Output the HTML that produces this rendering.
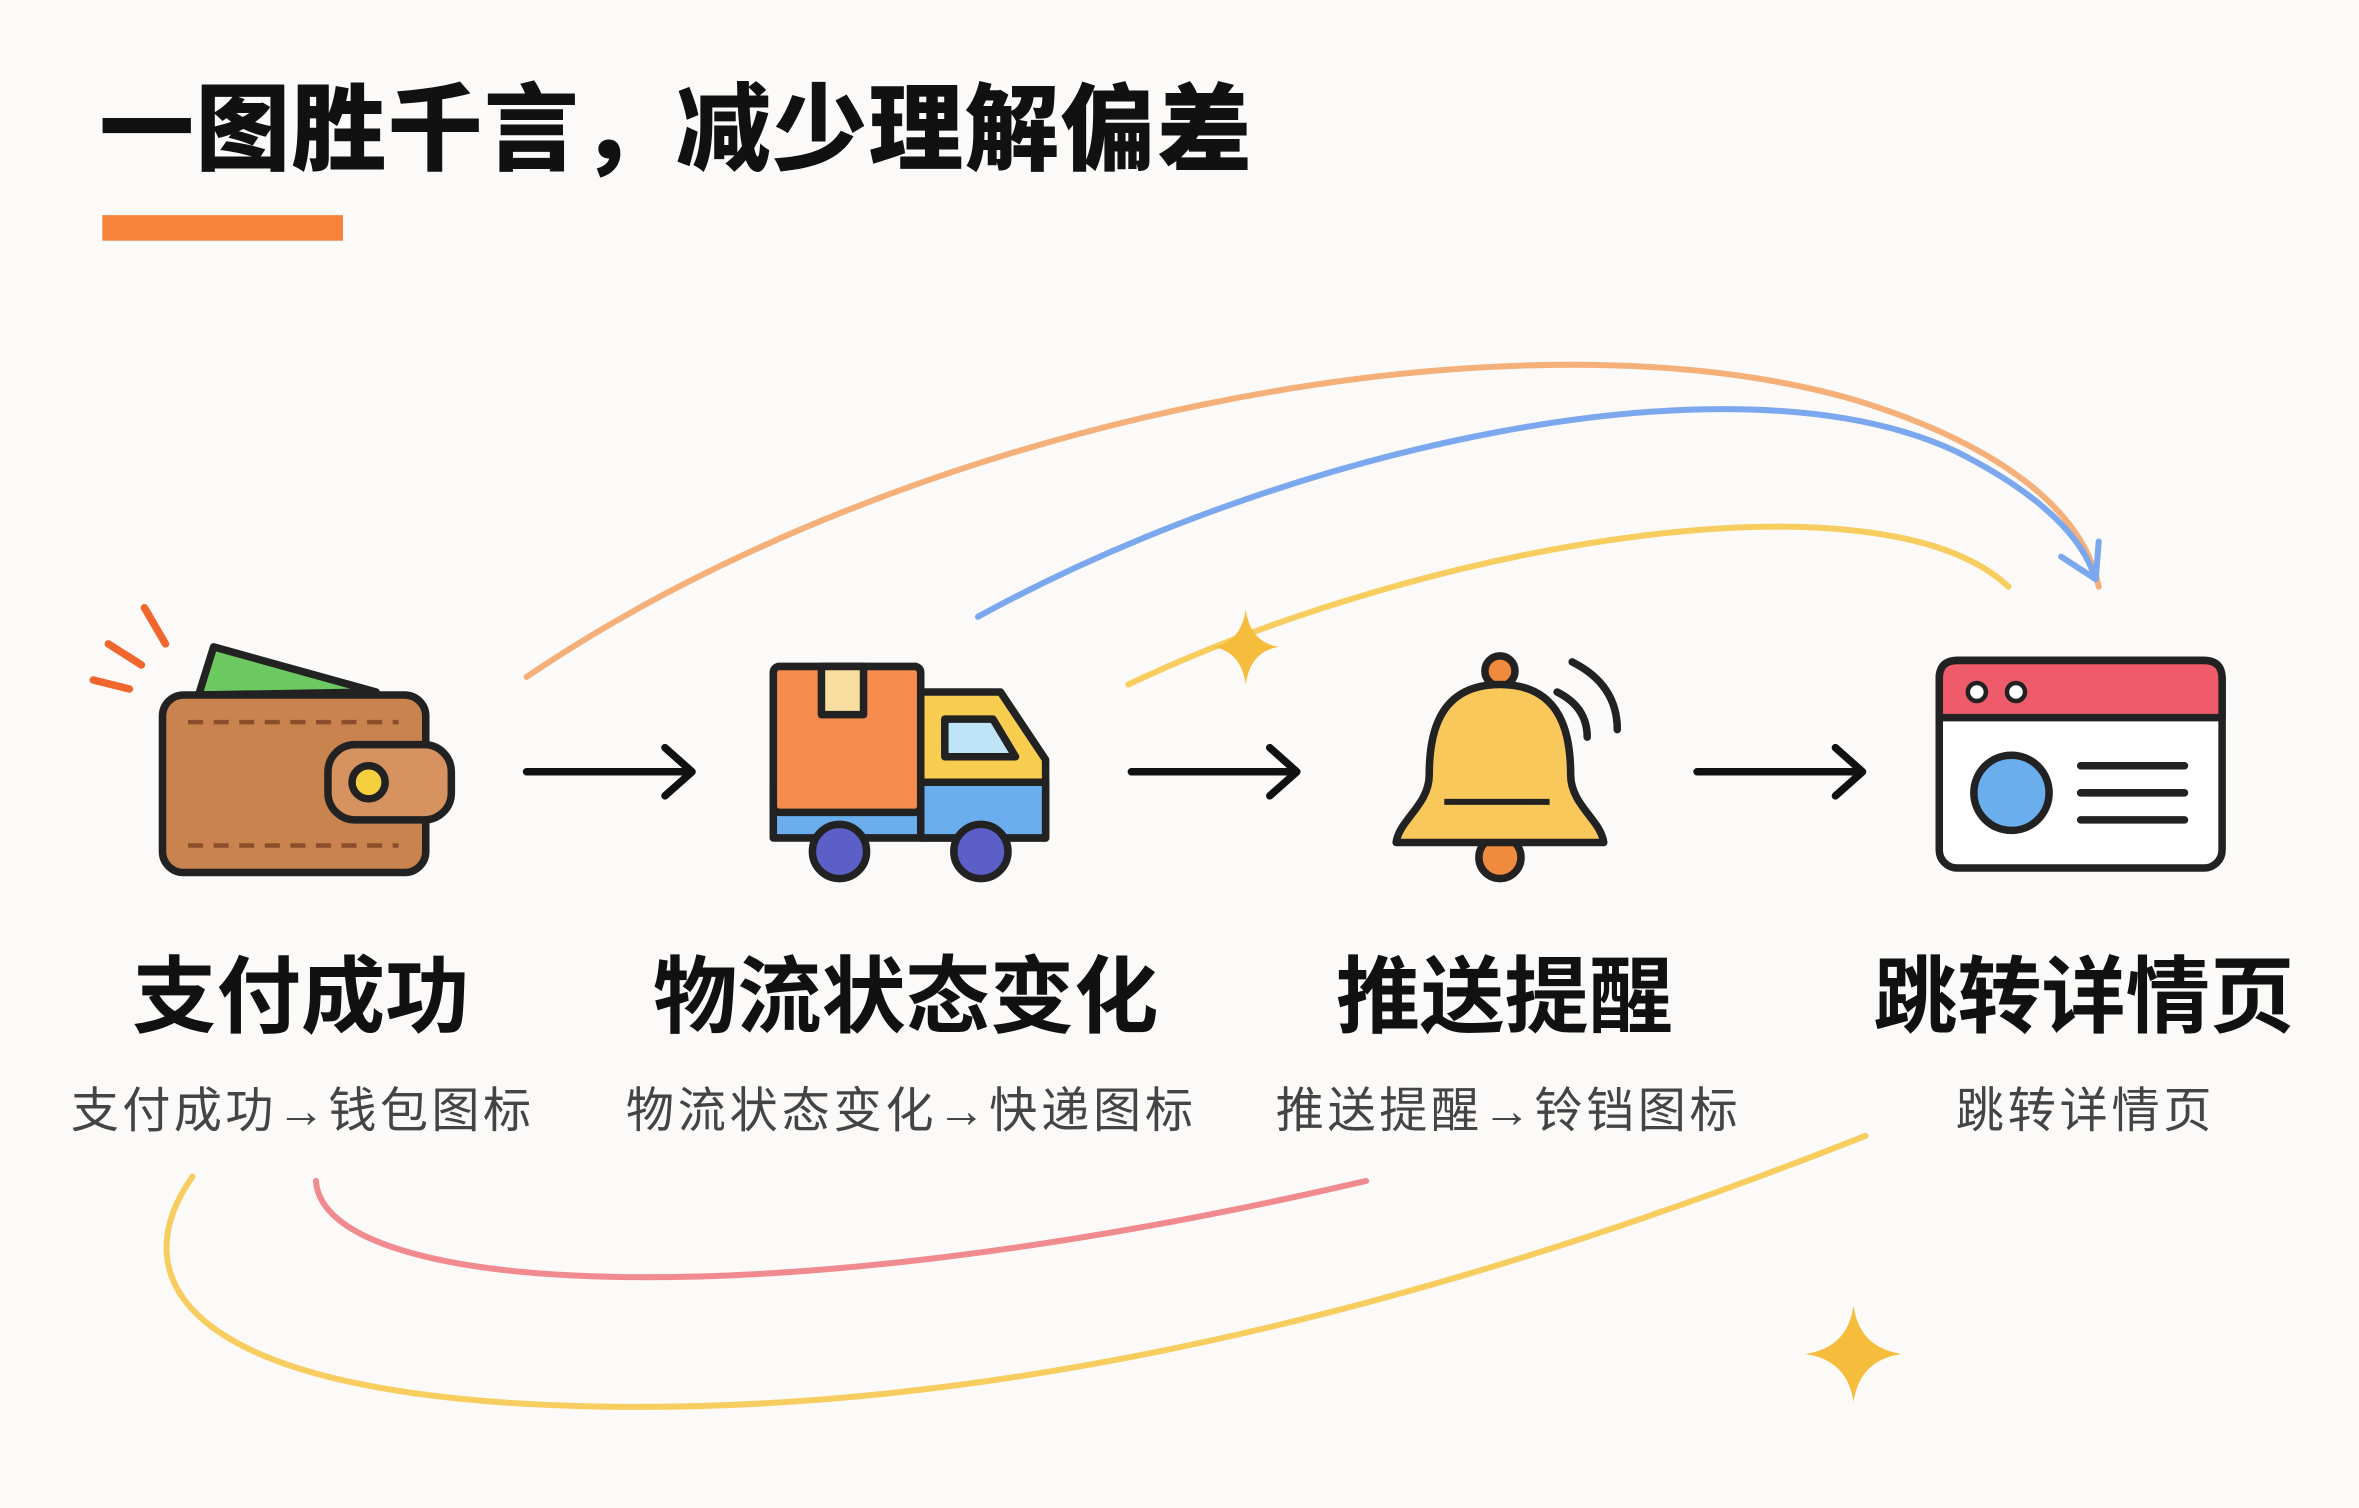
<!DOCTYPE html>
<html><head><meta charset="utf-8"><style>
html,body{margin:0;padding:0;background:#fbfaf8;}
svg{display:block}
text{font-family:"Liberation Sans","Noto Sans CJK SC",sans-serif;}
</style></head><body>
<svg width="2359" height="1508" viewBox="0 0 1568 1002.4" preserveAspectRatio="none" xmlns="http://www.w3.org/2000/svg">
<rect width="1568" height="1003" fill="#fbfaf8"/>
<text x="66" y="108" font-size="63" font-weight="900" fill="#111" textLength="766">一图胜千言，减少理解偏差</text>
<rect x="68" y="143" width="160" height="17" fill="#f5843a"/>

<path d="M350 450 C 600 280, 1000 200, 1230 265 C 1330 295, 1385 340, 1395 390" fill="none" stroke="#f5b07a" stroke-width="4" stroke-linecap="round"/>
<path d="M650 410 C 850 300, 1150 230, 1300 300 C 1360 330, 1385 360, 1392 383" fill="none" stroke="#7aa7ee" stroke-width="4" stroke-linecap="round"/>
<path d="M1370 370 L1393 385 L1395 360" fill="none" stroke="#7aa7ee" stroke-width="4" stroke-linecap="round" stroke-linejoin="round"/>
<path d="M750 455 C 950 360, 1250 310, 1335 390" fill="none" stroke="#f8cd60" stroke-width="4" stroke-linecap="round"/>
<path d="M828 405 Q831 427 850 430 Q831 433 828 455 Q825 433 806 430 Q825 427 828 405Z" fill="#f6bd3c"/>
<path d="M210 785 C 215 860, 500 880, 908 785" fill="none" stroke="#f18a8e" stroke-width="4" stroke-linecap="round"/>
<path d="M128 782 C 80 850, 120 930, 400 935 C 700 940, 1000 850, 1240 755" fill="none" stroke="#f8cd60" stroke-width="4" stroke-linecap="round"/>
<path d="M1232 868 Q1236 896 1264 900 Q1236 904 1232 932 Q1228 904 1200 900 Q1228 896 1232 868Z" fill="#f6bd3c"/>

<g stroke="#111" stroke-width="5" fill="none" stroke-linecap="round" stroke-linejoin="round">
<path d="M350 513 H460 M442 497 L460 513 L442 529"/>
<path d="M752 513 H862 M844 497 L862 513 L844 529"/>
<path d="M1128 513 H1238 M1220 497 L1238 513 L1220 529"/>
</g>

<g stroke="#222" stroke-width="5" stroke-linejoin="round">
<path d="M62 452 L86 458 M72 428 L94 442 M96 404 L110 428" stroke="#f0662d" stroke-width="5" stroke-linecap="round" fill="none"/>
<path d="M132 462 L142 430 L250 460Z" fill="#6cc860"/>
<rect x="108" y="462" width="175" height="118" rx="14" fill="#c8834f"/>
<path d="M125 480 H265 M125 562 H265" stroke="#8a4f2a" stroke-width="3" stroke-dasharray="10 7" fill="none"/>
<rect x="218" y="495" width="82" height="50" rx="18" fill="#d69360"/>
<circle cx="245" cy="520" r="11" fill="#f6d03c"/>
</g>

<g stroke="#222" stroke-width="5" stroke-linejoin="round">
<path d="M612 460 H665 L695 505 V557 H612Z" fill="#f8cd50"/>
<path d="M612 520 H695 V557 H612Z" fill="#6aaeee"/>
<path d="M628 478 H660 L675 503 H628Z" fill="#bfe3f7"/>
<path d="M514 520 H612 V557 H514Z" fill="#6aaeee"/>
<rect x="514" y="443" width="98" height="97" rx="4" fill="#f58b4c"/>
<rect x="546" y="443" width="28" height="32" fill="#f8dca0"/>
<circle cx="558" cy="566" r="18" fill="#5b5fc7"/>
<circle cx="652" cy="566" r="18" fill="#5b5fc7"/>
</g>

<g stroke="#222" stroke-width="5" stroke-linejoin="round">
<circle cx="997" cy="570" r="14" fill="#f08a3c"/>
<circle cx="997" cy="446" r="10" fill="#f08a3c"/>
<path d="M997 455 C955 455 950 490 950 515 C950 535 930 545 928 560 H1066 C1064 545 1044 535 1044 515 C1044 490 1039 455 997 455Z" fill="#f8c85a"/>
<path d="M960 533 H1030" stroke-width="4"/>
<path d="M1035 460 Q1055 470 1055 490 M1045 440 Q1075 455 1075 485" fill="none" stroke-linecap="round"/>
</g>

<g stroke="#222" stroke-width="5" stroke-linejoin="round">
<rect x="1289" y="439" width="188" height="138" rx="12" fill="#fff"/>
<path d="M1289 477 V451 Q1289 439 1301 439 H1465 Q1477 439 1477 451 V477Z" fill="#ef5b6a"/>
<circle cx="1314" cy="460" r="6" fill="#fff" stroke-width="3"/>
<circle cx="1340" cy="460" r="6" fill="#fff" stroke-width="3"/>
<circle cx="1337" cy="527" r="25" fill="#6aaeee"/>
<path d="M1383 509 H1452 M1383 527 H1452 M1383 545 H1452" stroke-linecap="round"/>
</g>

<g font-weight="700" font-size="56" fill="#111" text-anchor="middle">
<text x="200" y="682">支付成功</text>
<text x="602" y="682">物流状态变化</text>
<text x="1000" y="682">推送提醒</text>
<text x="1385" y="682">跳转详情页</text>
</g>
<g font-size="32" fill="#444">
<text x="47" y="749" textLength="306">支付成功→钱包图标</text>
<text x="416" y="749" textLength="377">物流状态变化→快递图标</text>
<text x="848" y="749" textLength="307">推送提醒→铃铛图标</text>
<text x="1300" y="749" textLength="170">跳转详情页</text>
</g>
</svg>
</body></html>
